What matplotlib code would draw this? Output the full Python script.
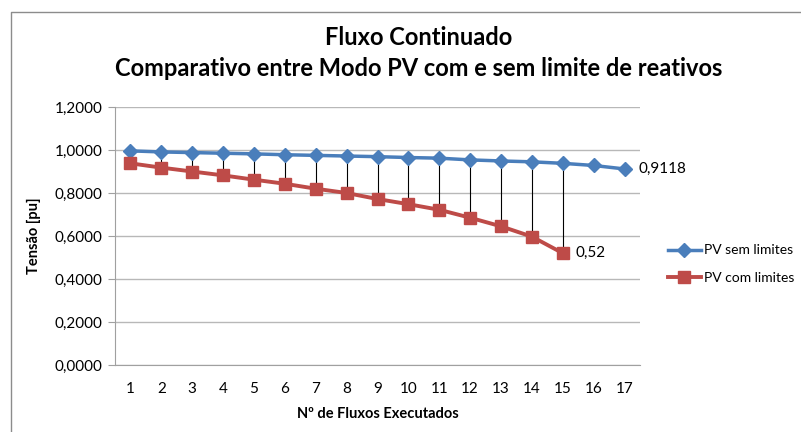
import matplotlib.pyplot as plt
from matplotlib.ticker import FuncFormatter
from matplotlib.lines import Line2D

plt.rcParams['font.family'] = ['Lato', 'DejaVu Sans']

# data
fluxos = list(range(1, 18))
pv_sem = [0.996, 0.991, 0.988, 0.985, 0.982, 0.978, 0.975, 0.972, 0.969,
          0.965, 0.962, 0.954, 0.949, 0.945, 0.938, 0.928, 0.9118]
pv_com = [0.938, 0.918, 0.900, 0.882, 0.862, 0.843, 0.820, 0.800, 0.772,
          0.748, 0.722, 0.685, 0.645, 0.597, 0.52]

blue = '#4a7ebb'
red = '#be4b48'

fig = plt.figure(figsize=(8.01, 4.32), dpi=100)
# chart border (only top and left edges are inside the picture)
fig.add_artist(Line2D([11 / 801, 11 / 801, 1.0], [0.0, 1 - 12 / 432, 1 - 12 / 432],
                      transform=fig.transFigure, color='#8c8c8c', linewidth=1))
ax = fig.add_axes([115 / 801, 1 - 365 / 432, 525 / 801, 258 / 432])

# high-low lines between the two series
for x, a, b in zip(fluxos, pv_sem, pv_com):
    ax.plot([x, x], [a, b], color='black', linewidth=0.8, zorder=1)

ax.plot(fluxos, pv_sem, color=blue, linewidth=2.5, marker='D', markersize=7,
        label='PV sem limites', zorder=3)
ax.plot(fluxos[:len(pv_com)], pv_com, color=red, linewidth=2.8, marker='s',
        markersize=8, label='PV com limites', zorder=3)

ax.annotate('0,9118', (fluxos[-1], pv_sem[-1]), xytext=(10, 0), textcoords='offset points',
            va='center', fontsize=11)
ax.annotate('0,52', (fluxos[len(pv_com) - 1], pv_com[-1]), xytext=(9, 0),
            textcoords='offset points', va='center', fontsize=11)

ax.set_xlim(0.5, 17.5)
ax.set_ylim(0, 1.2)
ax.set_yticks([0, 0.2, 0.4, 0.6, 0.8, 1.0, 1.2])
ax.yaxis.set_major_formatter(FuncFormatter(lambda v, p: f'{v:.4f}'.replace('.', ',')))
ax.set_xticks(fluxos)
ax.grid(axis='y', color='#b8b8b8', linewidth=1)
ax.set_axisbelow(True)
for s in ['top', 'right']:
    ax.spines[s].set_visible(False)
ax.spines['left'].set_color('#a0a0a0')
ax.spines['bottom'].set_color('#a0a0a0')
ax.tick_params(axis='x', length=0, labelsize=11, pad=12)
ax.tick_params(axis='y', length=5, color='#a0a0a0', labelsize=11, pad=4)

ax.set_xlabel('Nº de Fluxos Executados', fontsize=10.5, fontweight='bold', labelpad=8)
ax.set_ylabel('Tensão [pu]', fontsize=10.5, fontweight='bold', labelpad=10)

fig.text(0.523, 0.913, 'Fluxo Continuado', ha='center', va='center',
         fontsize=17, fontweight='bold')
fig.text(0.523, 0.842, 'Comparativo entre Modo PV com e sem limite de reativos',
         ha='center', va='center', fontsize=17, fontweight='bold')

fig.legend(loc='center left', bbox_to_anchor=(655 / 801, 1 - 264 / 432), frameon=False,
           fontsize=10, handlelength=2.4, labelspacing=1.1, handletextpad=0.2)

fig.savefig('out.png', dpi=100)
